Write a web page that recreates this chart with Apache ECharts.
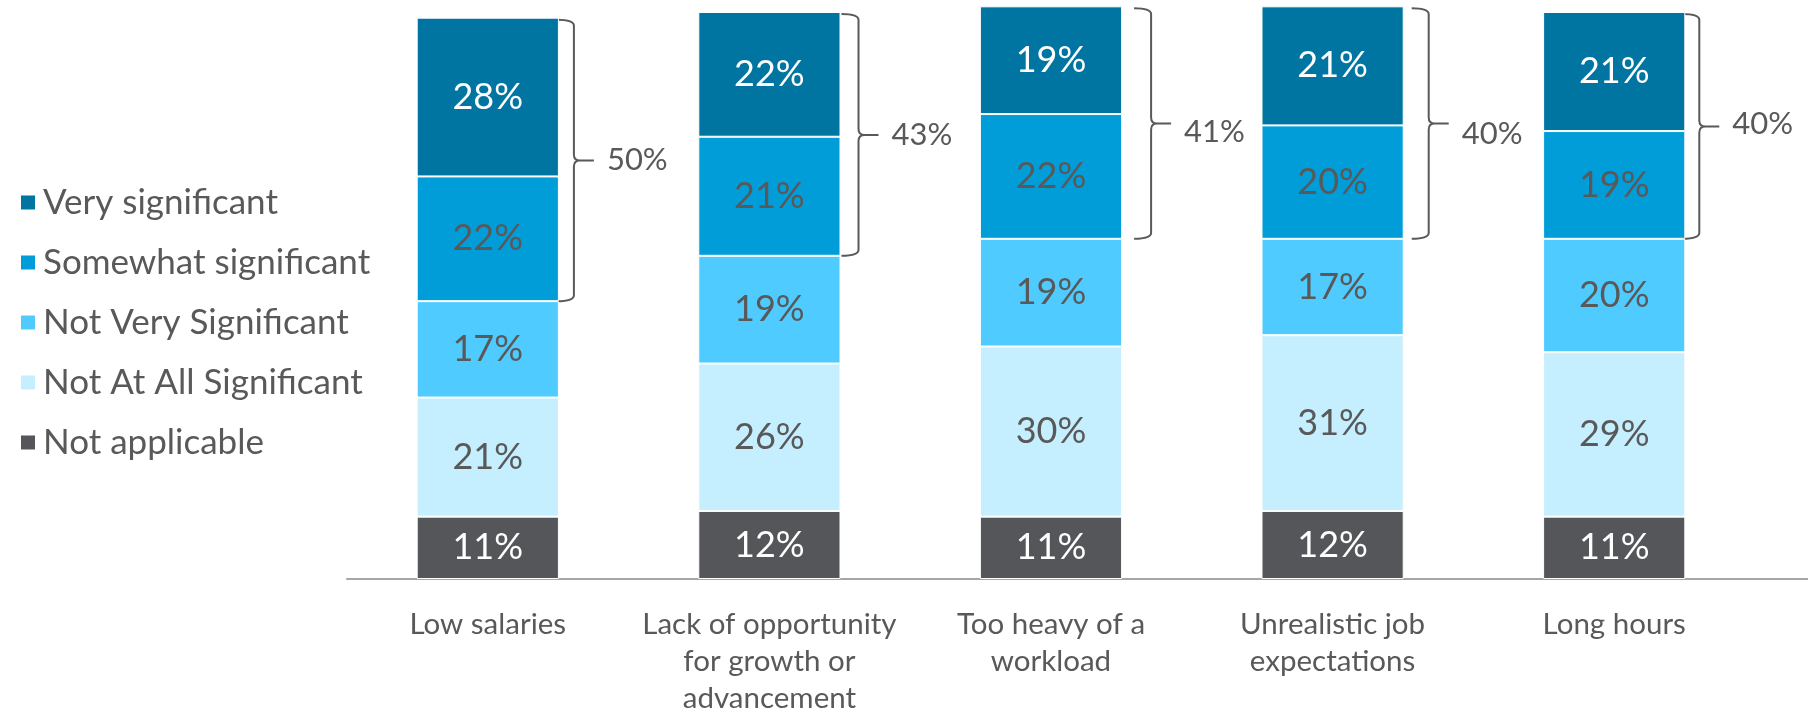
<!DOCTYPE html>
<html>
<head>
<meta charset="utf-8">
<script src="https://cdn.jsdelivr.net/npm/echarts@6/dist/echarts.min.js"></script>
<style>
  html, body { margin: 0; padding: 0; background: #fff; }
  #chart { width: 1808px; height: 712px; }
</style>
</head>
<body>
<div id="chart"></div>
<script>
const categories = ['Low salaries', 'Lack of opportunity\nfor growth or\nadvancement', 'Too heavy of a\nworkload', 'Unrealistic job\nexpectations', 'Long hours']
const notApplicable = [11, 12, 11, 12, 11]
const notAtAll = [21, 26, 30, 31, 29]
const notVery = [17, 19, 19, 17, 20]
const somewhat = [22, 21, 22, 20, 19]
const very = [28, 22, 19, 21, 21]
// combined "very" + "somewhat" as printed next to the brackets
const netSignificant = [50, 43, 41, 40, 40]

const FONT = 'Lato, "Open Sans", sans-serif'
const GREY = '#595959'
const BAR_FRAC = 0.505
// the brackets were placed by hand in the original, nudge them a bit
const braceShiftX = [0, 3, 14, 10, -1]
const braceLabelDy = [0, 0, 8, 10, -2]

const stackDefs = [
  { name: 'Not applicable', data: notApplicable, color: '#55565a', label: '#ffffff' },
  { name: 'Not At All Significant', data: notAtAll, color: '#c5eefe', label: GREY },
  { name: 'Not Very Significant', data: notVery, color: '#4fcbff', label: GREY },
  { name: 'Somewhat significant', data: somewhat, color: '#009dd9', label: GREY },
  { name: 'Very significant', data: very, color: '#0075a2', label: '#ffffff' }
]

const barSeries = stackDefs.map(d => {
  return {
    name: d.name,
    type: 'bar',
    stack: 'all',
    barWidth: (BAR_FRAC * 100) + '%',
    clip: false,
    itemStyle: { color: d.color, borderColor: '#fff', borderWidth: 1 },
    label: {
      show: true,
      position: 'inside',
      formatter: p => p.value + '%',
      color: d.label,
      fontFamily: FONT,
      fontSize: 36
    },
    emphasis: { disabled: true },
    data: d.data
  }
})

const braceData = categories.map((c, i) => {
  const low = notApplicable[i] + notAtAll[i] + notVery[i]
  const high = low + somewhat[i] + very[i]
  return [i, low, high, netSignificant[i]]
})

function renderBrace (params, api) {
  const i = api.value(0)
  const top = api.coord([i, api.value(2)])
  const bot = api.coord([i, api.value(1)])
  const band = api.size([1, 0])[0]
  const xr = top[0] + band * BAR_FRAC / 2 + braceShiftX[i]
  const xv = xr + 15
  const xt = xr + 35
  const yT = top[1] + 2
  const yB = bot[1]
  const yM = (yT + yB) / 2
  const r = 6
  const path = [
    'M', xr - 2, yT, 'Q', xv, yT, xv, yT + r,
    'L', xv, yM - r, 'Q', xv, yM, xv + r, yM,
    'L', xt, yM,
    'M', xv + r, yM, 'Q', xv, yM, xv, yM + r,
    'L', xv, yB - r, 'Q', xv, yB, xr - 2, yB
  ].join(' ')
  return {
    type: 'group',
    children: [
      { type: 'path', shape: { pathData: path }, style: { stroke: GREY, fill: 'none', lineWidth: 2 } },
      {
        type: 'text',
        x: xt + 13,
        y: yM + braceLabelDy[i],
        style: { text: api.value(3) + '%', fill: GREY, font: '31px ' + FONT, align: 'left', verticalAlign: 'middle' }
      }
    ]
  }
}

const chart = echarts.init(document.getElementById('chart'))
chart.setOption({
  animation: false,
  legend: {
    orient: 'vertical',
    left: 14,
    top: 180,
    itemWidth: 16,
    itemHeight: 16,
    itemGap: 25,
    icon: 'rect',
    data: ['Very significant', 'Somewhat significant', 'Not Very Significant', 'Not At All Significant', 'Not applicable'],
    textStyle: { color: GREY, fontFamily: FONT, fontSize: 35, padding: [0, 0, 0, 2] }
  },
  grid: { left: 347, right: 53, top: 12, bottom: 133, containLabel: false, outerBoundsMode: 'none' },
  xAxis: {
    type: 'category',
    data: categories,
    axisLine: { lineStyle: { color: '#a6a6a6', width: 2 } },
    axisTick: { show: false },
    axisLabel: { interval: 0, color: GREY, fontFamily: FONT, fontSize: 29.5, lineHeight: 37, margin: 27 }
  },
  yAxis: {
    type: 'value',
    min: 0,
    max: 100,
    show: false,
    splitLine: { show: false }
  },
  series: barSeries.concat([{
    type: 'custom',
    name: 'brace',
    clip: false,
    silent: true,
    renderItem: renderBrace,
    encode: { x: 0, y: [1, 2] },
    data: braceData
  }])
})

// the baseline in the original runs on to the right edge of the picture
const base = chart.convertToPixel({ gridIndex: 0 }, [categories.length - 1, 0])
const gridRight = chart.getWidth() - 53
chart.setOption({
  graphic: [{
    type: 'line',
    shape: { x1: gridRight, y1: base[1], x2: chart.getWidth(), y2: base[1] },
    style: { stroke: '#a6a6a6', lineWidth: 2 },
    silent: true
  }]
})
</script>
</body>
</html>
